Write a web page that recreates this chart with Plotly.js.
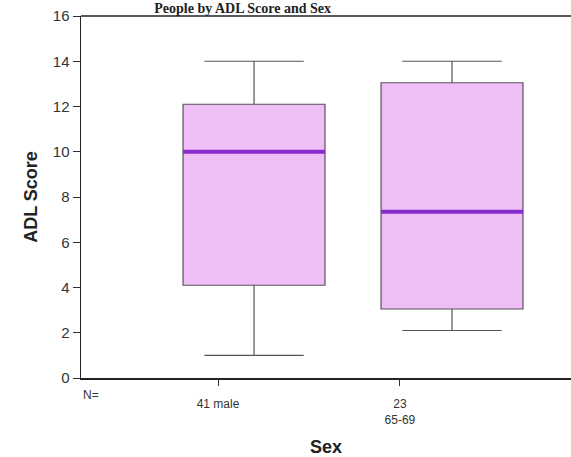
<!DOCTYPE html>
<html>
<head>
<meta charset="utf-8">
<script src="https://cdn.plot.ly/plotly-3.0.1.min.js"></script>
<style>html,body{margin:0;padding:0;background:#fff;}#chart{width:571px;height:457px;}</style>
</head>
<body>
<div id="chart"></div>
<script>
// Data
const groups = ['male', '65-69'];
const counts = [41, 23];
const tickLabels = ['41 male', '23<br>65-69'];
const q1 = [4.1, 3.05];
const medians = [10.0, 7.35];
const q3 = [12.1, 13.05];
const lowerWhisker = [1.0, 2.1];
const upperWhisker = [14.0, 14.0];

// Layout constants (positions/styles)
const boxPos = [1, 2];
const tickPos = [0.818, 1.737];
const boxWidth = 0.717;

const traces = [];
groups.forEach((g, i) => {
  traces.push({
    type: 'box',
    name: g,
    x: [boxPos[i]],
    q1: [q1[i]], median: [medians[i]], q3: [q3[i]],
    lowerfence: [lowerWhisker[i]], upperfence: [upperWhisker[i]],
    width: boxWidth,
    whiskerwidth: 0.7,
    fillcolor: 'rgb(240,190,246)',
    line: {color: '#555', width: 1.2},
    showlegend: false,
    hoverinfo: 'skip'
  });
  traces.push({
    type: 'scatter', mode: 'lines',
    x: [boxPos[i] - boxWidth / 2, boxPos[i] + boxWidth / 2],
    y: [medians[i], medians[i]],
    line: {color: 'rgb(135,45,205)', width: 4},
    showlegend: false, hoverinfo: 'skip'
  });
});

const layout = {
  width: 571, height: 457,
  margin: {l: 81, r: 0, t: 16, b: 79},
  paper_bgcolor: '#fff', plot_bgcolor: '#fff',
  font: {family: 'Liberation Sans, Arial, sans-serif', color: '#333'},
  title: {
    text: '<b>People by ADL Score and Sex</b>',
    font: {family: 'Liberation Serif, Times New Roman, serif', size: 14, color: '#222'},
    xref: 'container', yref: 'container', x: 0.425, xanchor: 'center', y: 1, yanchor: 'top', pad: {t: 3}
  },
  xaxis: {
    range: [0.126, 2.601], showgrid: false, zeroline: false,
    tickmode: 'array', tickvals: tickPos, ticktext: tickLabels,
    ticks: 'outside', ticklen: 6, tickcolor: '#333', tickwidth: 1,
    ticklabelstandoff: 8,
    tickfont: {size: 12, color: '#333'},
    showline: true, linecolor: '#222', linewidth: 1.5, mirror: false,
    title: {text: '<b>Sex</b>', font: {size: 18, color: '#222'}, standoff: 20}
  },
  yaxis: {
    range: [0, 16], dtick: 2, showgrid: false, zeroline: false,
    ticks: 'outside', ticklen: 7, tickcolor: '#333', tickwidth: 1,
    tickfont: {size: 15, color: '#333'},
    showline: true, linecolor: '#222', linewidth: 1.5,
    title: {text: '<b>ADL Score</b>', font: {size: 18, color: '#222'}, standoff: 10}
  },
  shapes: [{type: 'line', xref: 'paper', yref: 'paper', x0: 0, x1: 1, y0: 1, y1: 1, line: {color: '#222', width: 1.5}}],
  annotations: [{
    text: 'N=', xref: 'paper', yref: 'paper', x: 0, y: 0, xanchor: 'left', yanchor: 'top',
    yshift: -8, showarrow: false, font: {size: 12, color: '#333'}
  }]
};

Plotly.newPlot('chart', traces, layout, {displayModeBar: false, staticPlot: true});
</script>
</body>
</html>
